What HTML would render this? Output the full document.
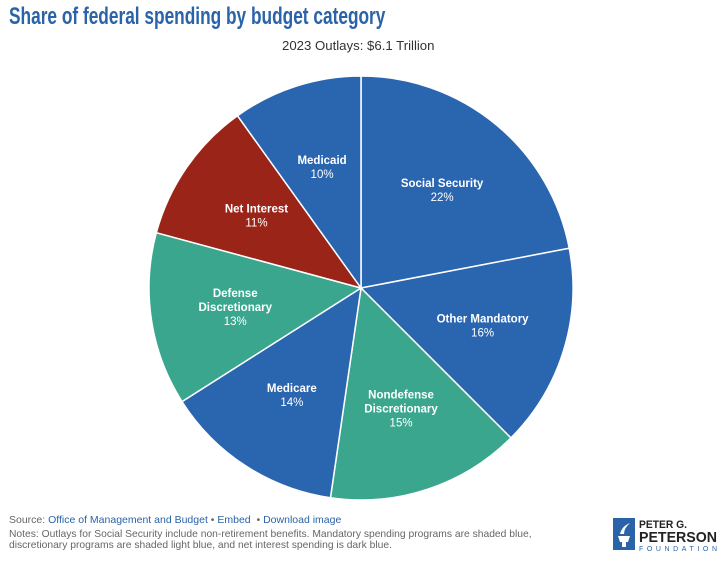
<!DOCTYPE html>
<html><head><meta charset="utf-8"><style>
body{margin:0;width:720px;height:565px;background:#fff;font-family:"Liberation Sans",sans-serif;position:relative;overflow:hidden}
#title{position:absolute;left:9px;top:3px;font-size:24px;color:#2a63a8;font-weight:bold;white-space:nowrap;transform:scaleX(0.72);transform-origin:0 0}
#sub{position:absolute;left:282px;top:38px;font-size:13.2px;color:#333}
#src{position:absolute;left:9px;top:514px;font-size:10.5px;color:#666}
#src a{color:#2a63a8;text-decoration:none}
#notes{position:absolute;left:9px;top:529px;font-size:10.3px;color:#666;line-height:11px;width:420px}
#notes span{display:block;white-space:nowrap}
#logo{position:absolute;left:613px;top:518px}
</style></head><body>
<div id="title">Share of federal spending by budget category</div>
<div id="sub">2023 Outlays: $6.1 Trillion</div>
<svg id="pie" width="720" height="565" style="position:absolute;left:0;top:0"></svg>
<div id="src">Source: <a href="#">Office of Management and Budget</a> • <a href="#">Embed</a> &nbsp;• <a href="#">Download image</a></div>
<div id="notes"><span>Notes: Outlays for Social Security include non-retirement benefits. Mandatory spending programs are shaded blue,</span><span>discretionary programs are shaded light blue, and net interest spending is dark blue.</span></div>
<div id="logo">
<svg width="108" height="36">
<rect x="0" y="0" width="22" height="32" fill="#2a63a8"/>
<path d="M5 18 h12 l-2 6 h-8z M9 24 h4 v5 h-4z" fill="#fff"/>
<path d="M7 16 q2 -8 10 -11 q-6 5 -6 11z" fill="#fff"/>
<text x="26" y="10" font-family="Liberation Sans, sans-serif" font-weight="bold" font-size="11" fill="#222" textLength="48" lengthAdjust="spacingAndGlyphs">PETER G.</text>
<text x="26" y="24" font-family="Liberation Sans, sans-serif" font-weight="bold" font-size="15" fill="#222" textLength="78" lengthAdjust="spacingAndGlyphs">PETERSON</text>
<text x="26" y="33" font-family="Liberation Sans, sans-serif" font-size="7" fill="#2a63a8" textLength="78" lengthAdjust="spacing">FOUNDATION</text>
</svg></div>
<script>
const categories=["Social Security","Other Mandatory","Nondefense Discretionary","Medicare","Defense Discretionary","Net Interest","Medicaid"];
const values=[22,15.5,14.8,13.7,13.2,10.9,9.9];
const valueLabels=["22%","16%","15%","14%","13%","11%","10%"];
const labelLines=[["Social Security"],["Other Mandatory"],["Nondefense","Discretionary"],["Medicare"],["Defense","Discretionary"],["Net Interest"],["Medicaid"]];
const colorKeys=["m","m","d","m","d","i","m"];
const colors={m:"#2a65b0",d:"#3aa68e",i:"#9b2419"};
const cx=361,cy=288,r=212;
const svg=document.getElementById('pie');
const NS="http://www.w3.org/2000/svg";
const total=values.reduce((a,b)=>a+b,0);
function pt(a,rr){return [cx+rr*Math.sin(a),cy-rr*Math.cos(a)];}
let acc=0;
values.forEach((v,i)=>{
  const a0=acc/total*2*Math.PI;acc+=v;const a1=acc/total*2*Math.PI;
  const p0=pt(a0,r),p1=pt(a1,r);
  const p=document.createElementNS(NS,'path');
  p.setAttribute('d',`M${cx},${cy}L${p0[0]},${p0[1]}A${r},${r} 0 ${a1-a0>Math.PI?1:0} 1 ${p1[0]},${p1[1]}Z`);
  p.setAttribute('fill',colors[colorKeys[i]]);
  p.setAttribute('stroke','#fff');p.setAttribute('stroke-width','1.5');
  
  
  svg.appendChild(p);
  const am=(a0+a1)/2;const lp=pt(am,r*0.6);
  const lines=labelLines[i].concat([valueLabels[i]]);
  const t=document.createElementNS(NS,'text');
  
  
  t.setAttribute('text-anchor','middle');t.setAttribute('fill','#fff');
  t.setAttribute('font-size','11.5');t.setAttribute('font-family','Liberation Sans, sans-serif');
  const y0=lp[1]-(lines.length-1)*7+4;
  lines.forEach((s,j)=>{const ts=document.createElementNS(NS,'tspan');ts.setAttribute('x',lp[0]);ts.setAttribute('y',y0+j*14);if(j<lines.length-1)ts.setAttribute('font-weight','bold');ts.textContent=s;t.appendChild(ts);});
  svg.appendChild(t);
});
</script>
</body></html>
